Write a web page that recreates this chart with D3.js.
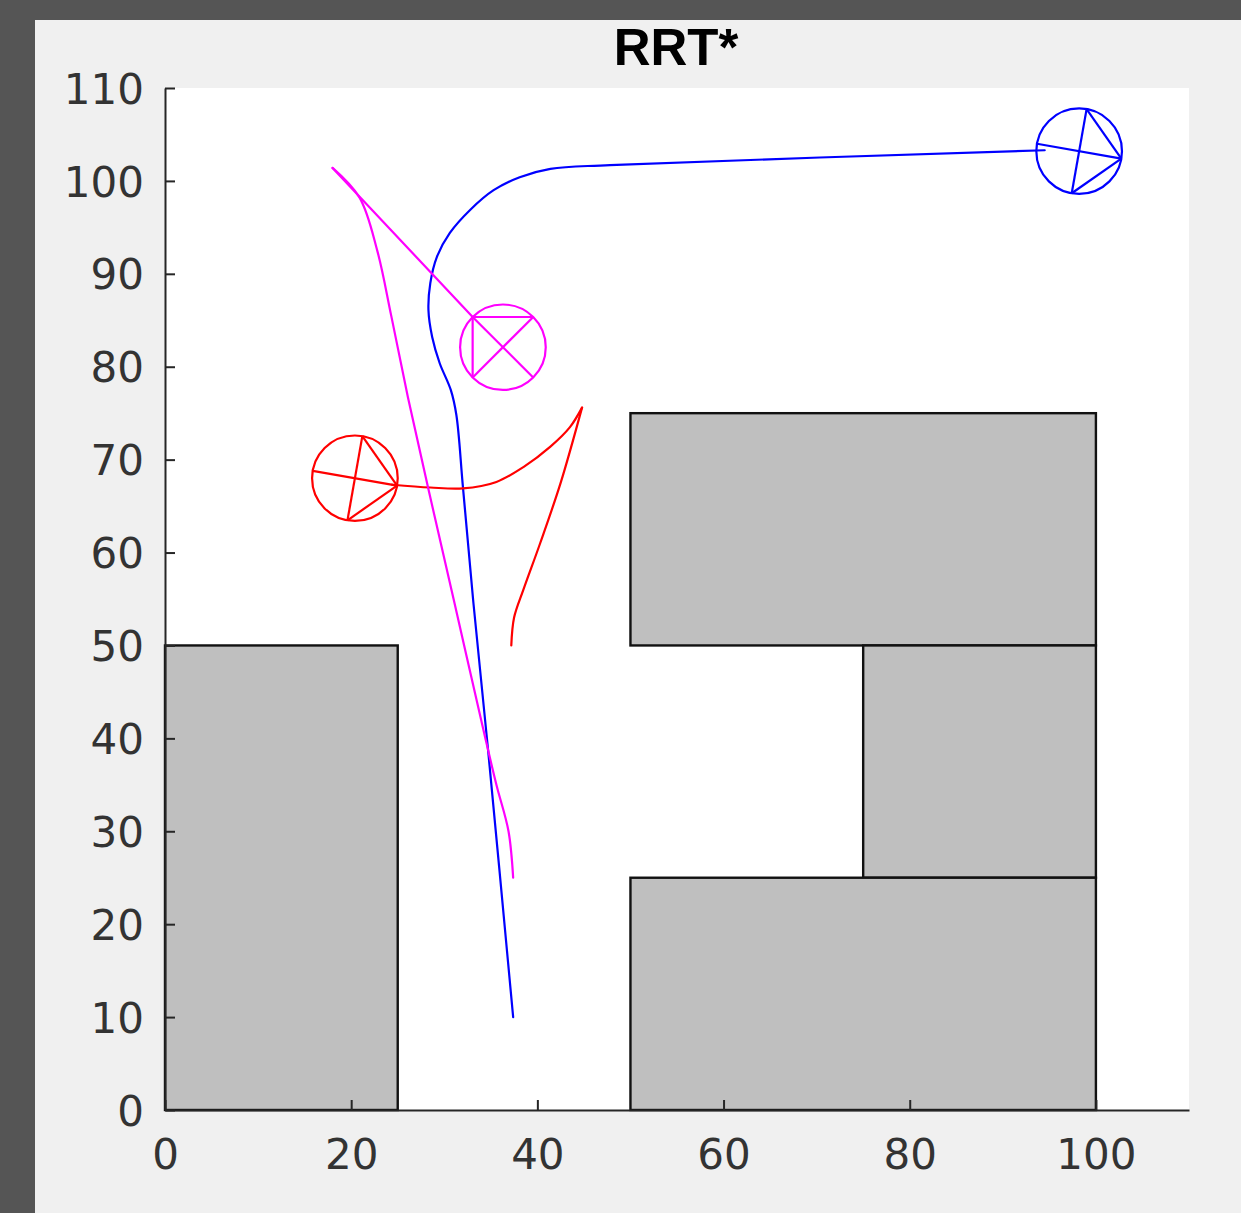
<!DOCTYPE html>
<html><head><meta charset="utf-8">
<script src="https://cdn.jsdelivr.net/npm/d3@7"></script>
<style>html,body{margin:0;padding:0;background:#555555;overflow:hidden;}</style>
</head><body>
<svg id="c" width="1241" height="1213"></svg>
<script>
// ---- data ----
const chartTitle = "RRT*";
const xTicks = [0, 20, 40, 60, 80, 100];
const yTicks = [0, 10, 20, 30, 40, 50, 60, 70, 80, 90, 100, 110];

// obstacles (x, y, width, height)
const obstacleX = [0, 50, 75, 50];
const obstacleY = [0, 50, 25, 0];
const obstacleW = [25, 50, 25, 50];
const obstacleH = [50, 25, 25, 25];

// blue path
const blueX = [37.4, 34.7, 33.1, 32.0, 31.3, 30.7, 29.5, 28.7, 28.3, 28.5, 29.2, 30.6, 32.8, 35.3, 38.1, 41.4, 47.8, 94.5];
const blueY = [10.0, 38.8, 54.9, 67.1, 74.8, 77.5, 80.4, 83.2, 86.1, 89.0, 91.8, 94.4, 96.9, 99.0, 100.4, 101.3, 101.7, 103.3];

// red path (forward part, then reverse part after the cusp)
const redFwdX = [37.2, 37.5, 38.5, 40.3, 42.5, 44.8];
const redFwdY = [50.0, 53.0, 56.0, 61.0, 67.5, 75.6];
const redRevX = [44.8, 43.5, 41.4, 38.5, 35.6, 32.0, 28.5, 24.4];
const redRevY = [75.6, 73.5, 71.4, 69.2, 67.6, 66.9, 67.0, 67.3];

// magenta path
const magFwdX = [37.4, 36.9, 35.6, 34.3, 31.0, 28.3, 26.1, 24.3, 22.8, 20.9, 18.0];
const magFwdY = [25.0, 30.0, 35.0, 40.5, 55.0, 66.8, 76.7, 85.5, 92.5, 98.2, 101.4];
const magRevX = [18.0, 33.05];
const magRevY = [101.4, 85.35];

// vehicle markers at goal poses
const markerX = [98.2, 20.4, 36.3];
const markerY = [103.2, 68.0, 82.1];
const markerHeading = [-10, -10, 135]; // degrees
const markerRadius = [4.6, 4.6, 4.6];
const markerColor = ["#0000ff", "#ff0000", "#ff00ff"];

// ---- drawing ----
const svg = d3.select("#c");
const W = 1241, H = 1213;
svg.append("rect").attr("x", 0).attr("y", 0).attr("width", W).attr("height", H).attr("fill", "#555555");
svg.append("rect").attr("x", 35).attr("y", 20).attr("width", W - 35).attr("height", H - 20).attr("fill", "#f0f0f0");

const x = d3.scaleLinear().domain([0, 110]).range([165, 1189]);
const y = d3.scaleLinear().domain([0, 110]).range([1110, 88]);

svg.append("rect").attr("x", x(0)).attr("y", y(110))
  .attr("width", x(110) - x(0)).attr("height", y(0) - y(110)).attr("fill", "#ffffff");

// obstacles
const obs = obstacleX.map((v, i) => ({x: v, y: obstacleY[i], w: obstacleW[i], h: obstacleH[i]}));
svg.append("g").selectAll("rect").data(obs).join("rect")
  .attr("x", d => x(d.x)).attr("y", d => y(d.y + d.h))
  .attr("width", d => x(d.x + d.w) - x(d.x)).attr("height", d => y(d.y) - y(d.y + d.h))
  .attr("fill", "#bfbfbf").attr("stroke", "#111").attr("stroke-width", 2.4);

// axes
const axisColor = "#262626";
const gx = svg.append("g").attr("transform", `translate(0,${y(0)})`)
  .call(d3.axisBottom(x).tickValues(xTicks).tickSizeInner(-10).tickSizeOuter(0).tickPadding(29));
const gy = svg.append("g").attr("transform", `translate(${x(0)},0)`)
  .call(d3.axisLeft(y).tickValues(yTicks).tickSizeInner(-10).tickSizeOuter(0).tickPadding(21));
[gx, gy].forEach(g => {
  g.select(".domain").attr("stroke", axisColor).attr("stroke-width", 2);
  g.selectAll(".tick line").attr("stroke", axisColor).attr("stroke-width", 2);
  g.selectAll(".tick text").attr("fill", "#333333")
    .style("font-family", "'DejaVu Sans', sans-serif").style("font-size", "42px");
});
gy.selectAll(".tick text").attr("dy", "0.36em");

// title
svg.append("text").attr("x", 676).attr("y", 65).attr("text-anchor", "middle")
  .style("font-family", "'Liberation Sans', Arial, sans-serif").style("font-weight", "bold")
  .style("font-size", "51px").attr("fill", "#000").text(chartTitle);

// paths
const zip = (a, b) => a.map((v, i) => [v, b[i]]);
const lineCR = d3.line().x(d => x(d[0])).y(d => y(d[1])).curve(d3.curveCatmullRom.alpha(0.5));
const segs = [
  {pts: zip(blueX, blueY), c: "#0000ff"},
  {pts: zip(redFwdX, redFwdY), c: "#ff0000"},
  {pts: zip(redRevX, redRevY), c: "#ff0000"},
  {pts: zip(magFwdX, magFwdY), c: "#ff00ff"},
  {pts: zip(magRevX, magRevY), c: "#ff00ff"}
];
svg.append("g").selectAll("path").data(segs).join("path")
  .attr("d", d => lineCR(d.pts)).attr("fill", "none").attr("stroke", d => d.c)
  .attr("stroke-width", 2.2).attr("stroke-linejoin", "round").attr("stroke-linecap", "round");

// markers
const mg = svg.append("g");
markerX.forEach((mx, i) => {
  const cx = mx, cy = markerY[i], r = markerRadius[i], t = markerHeading[i] * Math.PI / 180, col = markerColor[i];
  const pt = a => [cx + r * Math.cos(a), cy + r * Math.sin(a)];
  const F = pt(t), B = pt(t + Math.PI), S1 = pt(t + Math.PI / 2), S2 = pt(t - Math.PI / 2);
  const g = mg.append("g").attr("stroke", col).attr("stroke-width", 2.2).attr("fill", "none");
  g.append("ellipse").attr("cx", x(cx)).attr("cy", y(cy))
    .attr("rx", x(r) - x(0)).attr("ry", y(0) - y(r));
  [[B, F], [S1, S2], [S1, F], [F, S2]].forEach(([p, q]) => {
    g.append("line").attr("x1", x(p[0])).attr("y1", y(p[1])).attr("x2", x(q[0])).attr("y2", y(q[1]));
  });
});
</script>
</body></html>
